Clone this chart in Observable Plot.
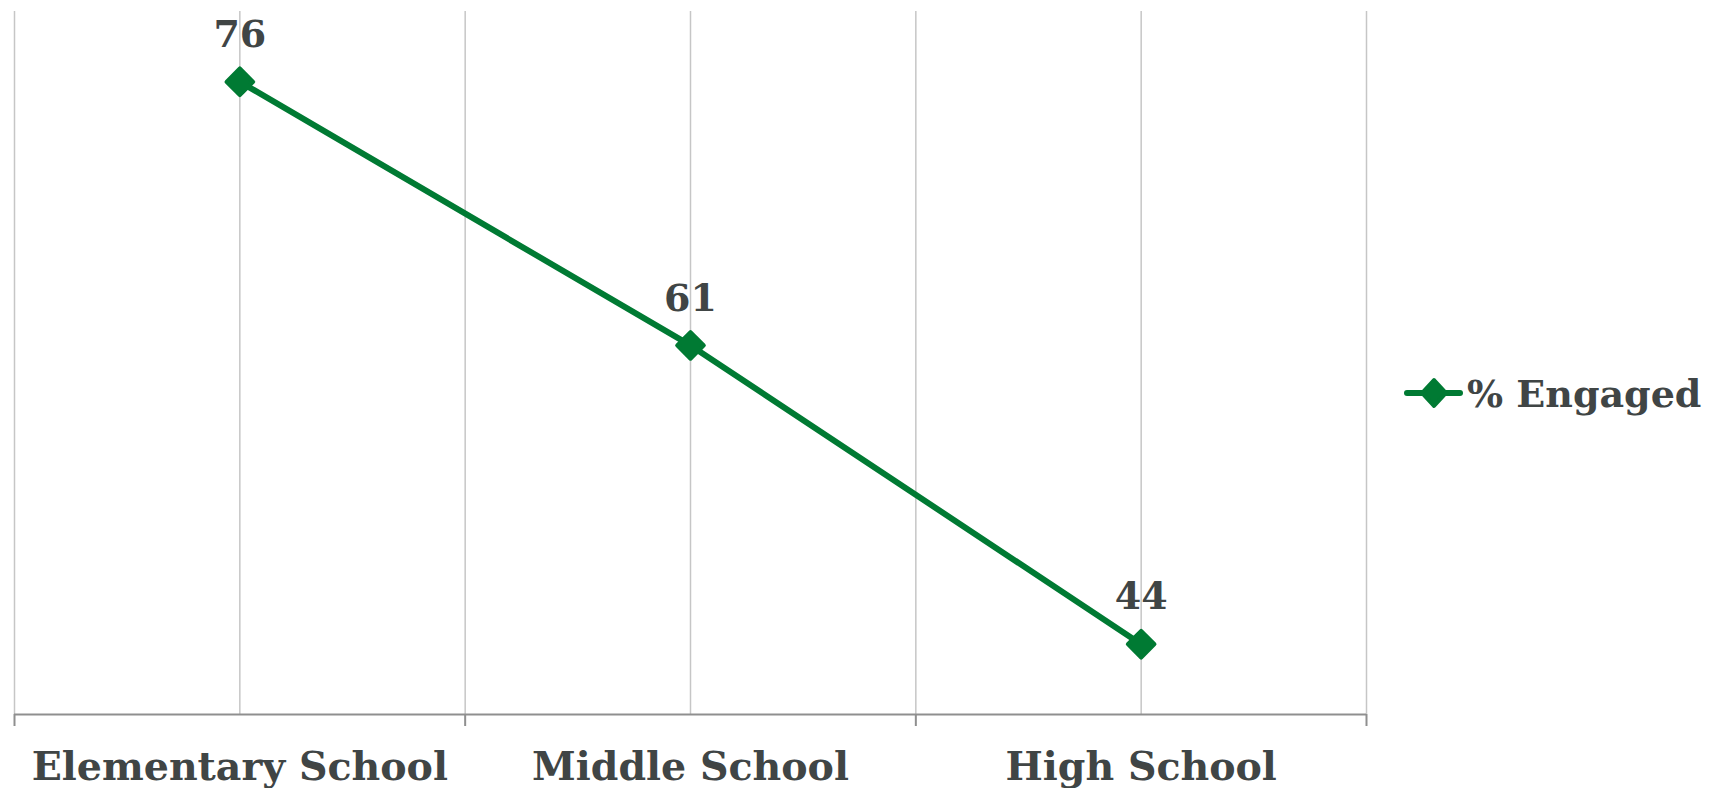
<!DOCTYPE html>
<html>
<head>
<meta charset="utf-8">
<script src="https://cdn.jsdelivr.net/npm/d3@7"></script>
<script src="https://cdn.jsdelivr.net/npm/@observablehq/plot@0.6"></script>
<style>
  html, body { margin: 0; padding: 0; background: #fff; }
  #wrap { position: relative; width: 1715px; height: 788px; overflow: hidden; }
  #legend { position: absolute; left: 1403px; top: 373px; height: 40px; display: flex; align-items: center;
    font-family: "DejaVu Serif", serif; font-weight: bold; font-size: 38px; color: #404545; white-space: nowrap; }
  #legend svg { display: block; margin-right: 2px; }
</style>
</head>
<body>
<div id="wrap"><div id="chart"></div><div id="legend"></div></div>
<script>
const categories = ["Elementary School", "Middle School", "High School"];
const engaged = [76, 61, 44];
const seriesName = "% Engaged";
const yDomain = [40, 80];

const green = "#007a33";
const textColor = "#404545";

const data = categories.map((c, i) => ({category: c, pos: i + 0.5, value: engaged[i]}));
const edges = d3.range(0, categories.length + 1);
const gridPositions = d3.range(0, categories.length + 0.5, 0.5);
const centers = categories.map((c, i) => i + 0.5);

const chart = Plot.plot({
  width: 1380,
  height: 788,
  marginLeft: 14,
  marginRight: 14,
  marginTop: 11,
  marginBottom: 74,
  x: {type: "linear", domain: [0, categories.length], axis: null},
  y: {domain: yDomain, axis: null},
  style: {fontFamily: "DejaVu Serif", fontWeight: "bold", color: textColor, background: "white", overflow: "visible"},
  marks: [
    Plot.gridX(gridPositions, {stroke: "#c6c6c6", strokeOpacity: 1, strokeWidth: 1.5}),
    Plot.ruleY([yDomain[0]], {stroke: "#8f8f8f", strokeWidth: 2}),
    Plot.axisX(edges, {anchor: "bottom", tickSize: 12, tickFormat: () => "", stroke: "#8f8f8f", strokeWidth: 2, label: null}),
    Plot.axisX(centers, {anchor: "bottom", tickSize: 0, tickPadding: 37, tickFormat: d => categories[Math.floor(d)],
      fontSize: 39.5, fontWeight: "bold", fill: textColor, label: null}),
    Plot.line(data, {x: "pos", y: "value", stroke: green, strokeWidth: 6}),
    Plot.dot(data, {x: "pos", y: "value", symbol: "diamond2", r: 12, fill: green, stroke: green, strokeWidth: 4, strokeLinejoin: "round"}),
    Plot.text(data, {x: "pos", y: "value", text: d => String(d.value), dy: -47, fontSize: 38, fontWeight: "bold", fill: textColor})
  ]
});
document.getElementById("chart").appendChild(chart);

const legend = document.getElementById("legend");
legend.innerHTML = `<svg width="62" height="40" viewBox="0 0 62 40">
  <line x1="4" y1="20" x2="57" y2="20" stroke="${green}" stroke-width="6" stroke-linecap="round"/>
  <path d="M31 7 L43 20 L31 33 L19 20 Z" fill="${green}" stroke="${green}" stroke-width="4" stroke-linejoin="round"/>
</svg><span>${seriesName}</span>`;
</script>
</body>
</html>
